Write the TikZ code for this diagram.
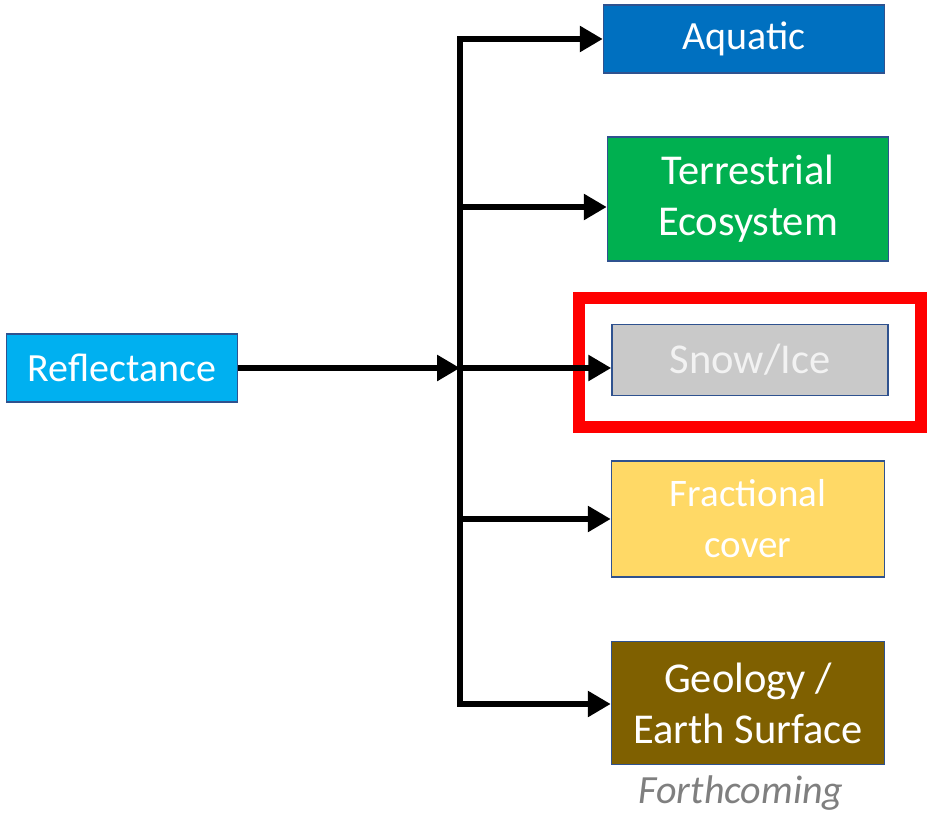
\documentclass[tikz,border=0pt]{standalone}
\usepackage{fontspec}
\setmainfont{Carlito}
\usetikzlibrary{arrows.meta}
\definecolor{boxline}{HTML}{2F528F}
\definecolor{reflblue}{HTML}{00B0F0}
\definecolor{aquablue}{HTML}{0070C0}
\definecolor{terrgreen}{HTML}{00B050}
\definecolor{snowgray}{HTML}{C9C9C9}
\definecolor{fracyellow}{HTML}{FFD966}
\definecolor{geobrown}{HTML}{7F6000}
\definecolor{notegray}{HTML}{7F7F7F}
\begin{document}
\begin{tikzpicture}[x=1pt, y=-1pt]
    % 通用样式
    \tikzstyle{box} = [rectangle, draw=boxline, line width=1.5pt, inner sep=0pt, align=center,
                       text=white, font=\fontsize{40}{51}\selectfont]
    \tikzstyle{bigtext} = [font=\fontsize{42.5}{51}\selectfont]
    \tikzstyle{flow} = [-{Triangle[length=23pt, width=25pt]}, line width=6pt, black]
    \tikzstyle{trunk} = [line width=6pt, black]

    \useasboundingbox (0,0) rectangle (927,816);

    % ================= 方框 =================
    \node[box, fill=reflblue, minimum width=231pt, minimum height=68pt] (refl) at (122,368) {Reflectance};
    \node[box, fill=aquablue, minimum width=281pt, minimum height=68pt] (aquatic) at (744,39) {Aquatic};
    \node[box, bigtext, fill=terrgreen, minimum width=281pt, minimum height=124pt] (terr) at (748,199) {Terrestrial\\Ecosystem};
    \node[box, bigtext, fill=snowgray, text=white!95!black, minimum width=276pt, minimum height=71pt] (snow) at (750,360) {Snow/Ice};
    \node[box, font=\fontsize{39}{51}\selectfont, fill=fracyellow, minimum width=273pt, minimum height=116pt] (frac) at (748,519) {Fractional\\cover};
    \node[box, bigtext, fill=geobrown, minimum width=273pt, minimum height=123pt] (geo) at (748,703) {Geology /\\Earth Surface};
    \node[text=notegray, font=\fontsize{40}{51}\selectfont\itshape] (note) at (741,793) {Forthcoming};

    % 高亮框
    \draw[red, line width=12pt] (579,298) rectangle (921,427);

    % ================= 连接 =================
    \coordinate (j1) at (460,39);
    \coordinate (j2) at (460,207);
    \coordinate (j3) at (460,368);
    \coordinate (j4) at (460,519);
    \coordinate (j5) at (460,704);

    \draw[trunk] (j1) -- (j5);
    \draw[flow] (refl.east |- j3) -- (j3);
    \draw[flow] (j5) -- (j1) -- (aquatic.west |- j1);
    \draw[flow] (j1) -- (j5) -- (geo.west |- j5);
    \draw[flow] (j2) -- (terr.west |- j2);
    \draw[flow] (j3) -- (snow.west |- j3);
    \draw[flow] (j4) -- (frac.west |- j4);

\end{tikzpicture}
\end{document}
